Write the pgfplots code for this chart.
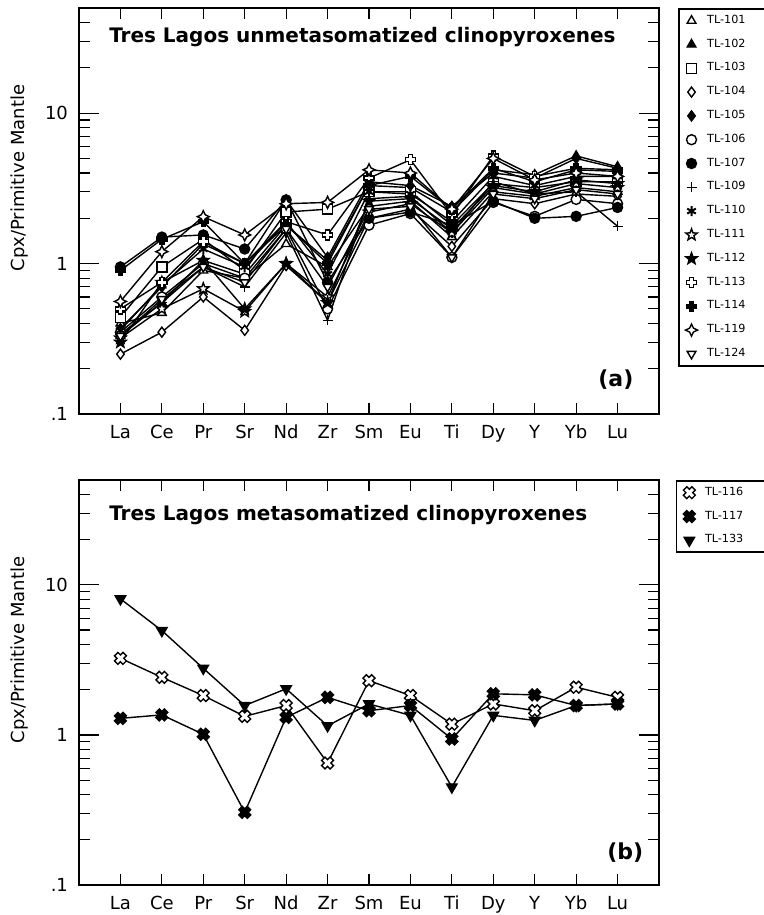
\documentclass[border=0pt]{standalone}
\usepackage{fontspec}
\setmainfont{DejaVu Sans}
\usepackage{pgfplots}
\pgfplotsset{compat=1.18}
\usepackage{pgfplotstable}
\usetikzlibrary{plotmarks}

\pgfdeclareplotmark{fatplus}{%
  \pgfpathmoveto{\pgfqpoint{-0.4\pgfplotmarksize}{\pgfplotmarksize}}%
  \pgfpathlineto{\pgfqpoint{0.4\pgfplotmarksize}{\pgfplotmarksize}}%
  \pgfpathlineto{\pgfqpoint{0.4\pgfplotmarksize}{0.4\pgfplotmarksize}}%
  \pgfpathlineto{\pgfqpoint{\pgfplotmarksize}{0.4\pgfplotmarksize}}%
  \pgfpathlineto{\pgfqpoint{\pgfplotmarksize}{-0.4\pgfplotmarksize}}%
  \pgfpathlineto{\pgfqpoint{0.4\pgfplotmarksize}{-0.4\pgfplotmarksize}}%
  \pgfpathlineto{\pgfqpoint{0.4\pgfplotmarksize}{-\pgfplotmarksize}}%
  \pgfpathlineto{\pgfqpoint{-0.4\pgfplotmarksize}{-\pgfplotmarksize}}%
  \pgfpathlineto{\pgfqpoint{-0.4\pgfplotmarksize}{-0.4\pgfplotmarksize}}%
  \pgfpathlineto{\pgfqpoint{-\pgfplotmarksize}{-0.4\pgfplotmarksize}}%
  \pgfpathlineto{\pgfqpoint{-\pgfplotmarksize}{0.4\pgfplotmarksize}}%
  \pgfpathlineto{\pgfqpoint{-0.4\pgfplotmarksize}{0.4\pgfplotmarksize}}%
  \pgfpathclose\pgfusepathqfillstroke}
\pgfdeclareplotmark{fourstar}{%
  \pgfpathmoveto{\pgfpointpolar{90}{1.2\pgfplotmarksize}}%
  \pgfpathlineto{\pgfpointpolar{135}{0.55\pgfplotmarksize}}%
  \pgfpathlineto{\pgfpointpolar{180}{1.2\pgfplotmarksize}}%
  \pgfpathlineto{\pgfpointpolar{225}{0.55\pgfplotmarksize}}%
  \pgfpathlineto{\pgfpointpolar{270}{1.2\pgfplotmarksize}}%
  \pgfpathlineto{\pgfpointpolar{315}{0.55\pgfplotmarksize}}%
  \pgfpathlineto{\pgfpointpolar{0}{1.2\pgfplotmarksize}}%
  \pgfpathlineto{\pgfpointpolar{45}{0.55\pgfplotmarksize}}%
  \pgfpathclose\pgfusepathqfillstroke}
\pgfdeclareplotmark{fivestar}{%
  \pgfpathmoveto{\pgfpointpolar{90}{1.2\pgfplotmarksize}}%
  \pgfpathlineto{\pgfpointpolar{126}{0.5\pgfplotmarksize}}%
  \pgfpathlineto{\pgfpointpolar{162}{1.2\pgfplotmarksize}}%
  \pgfpathlineto{\pgfpointpolar{198}{0.5\pgfplotmarksize}}%
  \pgfpathlineto{\pgfpointpolar{234}{1.2\pgfplotmarksize}}%
  \pgfpathlineto{\pgfpointpolar{270}{0.5\pgfplotmarksize}}%
  \pgfpathlineto{\pgfpointpolar{306}{1.2\pgfplotmarksize}}%
  \pgfpathlineto{\pgfpointpolar{342}{0.5\pgfplotmarksize}}%
  \pgfpathlineto{\pgfpointpolar{18}{1.2\pgfplotmarksize}}%
  \pgfpathlineto{\pgfpointpolar{54}{0.5\pgfplotmarksize}}%
  \pgfpathclose\pgfusepathqfillstroke}

\pgfplotstableread{
x T101 T102 T103 T104 T105 T106 T107 T109 T110 T111 T112 T113 T114 T119 T124
0 0.40 0.33 0.44 0.25 0.37 0.35 0.95 0.34 0.36 0.32 0.30 0.50 0.90 0.56 0.33
1 0.47 0.55 0.95 0.35 0.70 0.60 1.50 0.55 0.72 0.50 0.75 0.75 1.45 1.20 0.58
2 0.90 1.05 1.45 0.60 1.35 1.00 1.55 0.95 1.25 0.68 1.05 1.40 1.90 2.05 0.95
3 0.80 0.85 0.90 0.36 1.00 0.80 1.25 0.70 0.95 0.48 0.50 1.00 1.00 1.55 0.75
4 1.35 1.80 2.20 0.97 2.65 1.70 2.65 1.60 1.90 1.00 1.00 1.90 1.80 2.50 1.70
5 0.95 1.05 2.30 0.55 1.10 0.50 0.75 0.42 0.85 0.60 0.55 1.55 1.00 2.55 0.70
6 2.40 3.30 3.00 2.00 3.50 1.80 2.00 2.70 3.00 2.20 2.60 3.70 3.30 4.20 2.30
7 2.60 3.20 3.00 2.30 3.30 2.15 2.20 2.80 2.90 2.50 2.70 4.90 3.80 4.00 2.40
8 1.50 2.20 1.80 1.30 2.40 1.10 1.80 1.60 1.90 1.60 1.70 2.10 2.30 2.30 1.10
9 3.00 4.20 3.40 2.70 4.00 2.55 2.60 3.50 3.80 3.20 3.30 5.20 4.30 5.00 2.90
10 2.80 3.90 3.20 2.50 3.70 2.06 2.00 2.90 3.30 2.90 3.00 3.80 3.50 3.60 2.70
11 3.20 5.20 3.50 2.90 5.00 2.67 2.06 3.00 3.80 3.40 3.60 4.30 4.20 4.00 3.10
12 3.00 4.40 3.50 2.80 4.30 2.50 2.36 1.77 3.80 3.20 3.40 4.20 4.10 3.80 2.90
}\topdata

\pgfplotstableread{
x T116 T117 T133
0 3.24 1.29 8.07
1 2.42 1.36 4.96
2 1.83 1.01 2.78
3 1.33 0.305 1.57
4 1.57 1.31 2.03
5 0.65 1.78 1.15
6 2.30 1.45 1.61
7 1.83 1.57 1.35
8 1.18 0.94 0.45
9 1.61 1.88 1.35
10 1.45 1.85 1.25
11 2.08 1.57 1.57
12 1.78 1.61 1.61
}\botdata

\pgfplotsset{
  legend image code/.code={\path (-6pt,0pt) (6pt,0pt); \draw[#1] plot coordinates {(0pt,0pt)};},
}
\newcommand{\lab}[1]{\makebox[45pt][l]{#1}}

\begin{document}
\begin{tikzpicture}
\useasboundingbox (0,0) rectangle (382pt,457.5pt);
\begin{axis}[at={(39.5pt,250.5pt)}, anchor=south west,
    scale only axis, width=290pt, height=203pt,
    ymode=log, ymin=0.1, ymax=50, xmin=-1, xmax=13,
    xtick={0,...,12},
    xticklabels={La,Ce,Pr,Sr,Nd,Zr,Sm,Eu,Ti,Dy,Y,Yb,Lu},
    minor xtick={0,...,12},
    major x tick style={draw=none},
    ytick={0.1,1,10}, yticklabels={.1,1,10},
    minor ytick={0.2,0.3,0.4,0.5,0.6,0.7,0.8,0.9,2,3,4,5,6,7,8,9,20,30,40},
    tick align=inside,
    major tick length=10pt, minor tick length=5.5pt,
    tick style={black, line width=0.6pt},
    axis line style={line width=1pt},
    ticklabel style={font=\fontsize{9}{11}\selectfont},
    yticklabel style={xshift=-2pt},
    xticklabel style={yshift=-2pt},
    legend cell align=left,
    legend style={draw=black, line width=0.8pt, inner sep=0pt, row sep=0pt,
      column sep=1.5pt, font=\fontsize{5.6}{6.5}\selectfont,
      nodes={minimum height=11.9pt, inner sep=0pt},
      at={(axis description cs:1.0328,1)}, anchor=north west},
    every axis plot/.append style={black, line width=0.7pt, mark size=2.5pt},
  ]
\addplot[mark=triangle*, mark options={fill=white}] table[x=x,y=T101]{\topdata};
\addlegendentry{\lab{TL-101}}
\addplot[mark=triangle*, mark options={fill=black}] table[x=x,y=T102]{\topdata};
\addlegendentry{\lab{TL-102}}
\addplot[mark=square*, mark options={fill=white}] table[x=x,y=T103]{\topdata};
\addlegendentry{\lab{TL-103}}
\addplot[mark=diamond*, mark options={fill=white}] table[x=x,y=T104]{\topdata};
\addlegendentry{\lab{TL-104}}
\addplot[mark=diamond*, mark options={fill=black}] table[x=x,y=T105]{\topdata};
\addlegendentry{\lab{TL-105}}
\addplot[mark=*, mark options={fill=white}] table[x=x,y=T106]{\topdata};
\addlegendentry{\lab{TL-106}}
\addplot[mark=*, mark options={fill=black}] table[x=x,y=T107]{\topdata};
\addlegendentry{\lab{TL-107}}
\addplot[mark=+, mark options={line width=0.7pt}] table[x=x,y=T109]{\topdata};
\addlegendentry{\lab{TL-109}}
\addplot[mark=asterisk, mark options={line width=1pt}] table[x=x,y=T110]{\topdata};
\addlegendentry{\lab{TL-110}}
\addplot[mark=fivestar, mark options={fill=white}] table[x=x,y=T111]{\topdata};
\addlegendentry{\lab{TL-111}}
\addplot[mark=fivestar, mark options={fill=black}] table[x=x,y=T112]{\topdata};
\addlegendentry{\lab{TL-112}}
\addplot[mark=fatplus, mark options={fill=white}] table[x=x,y=T113]{\topdata};
\addlegendentry{\lab{TL-113}}
\addplot[mark=fatplus, mark options={fill=black}] table[x=x,y=T114]{\topdata};
\addlegendentry{\lab{TL-114}}
\addplot[mark=fourstar, mark options={fill=white}] table[x=x,y=T119]{\topdata};
\addlegendentry{\lab{TL-119}}
\addplot[mark=triangle*, mark options={fill=white, rotate=180}] table[x=x,y=T124]{\topdata};
\addlegendentry{\lab{TL-124}}
\node[anchor=west, font=\bfseries\fontsize{10}{12}\selectfont] at (axis description cs:0.040,0.929) {Tres Lagos unmetasomatized clinopyroxenes};
\node[anchor=east, font=\bfseries\fontsize{11}{13}\selectfont] at (axis description cs:0.968,0.084) {(a)};
\end{axis}
\node[rotate=90, font=\fontsize{9}{11}\selectfont] at (10pt,368.5pt) {Cpx/Primitive Mantle};

\begin{axis}[at={(39.5pt,15pt)}, anchor=south west,
    scale only axis, width=290pt, height=202.5pt,
    ymode=log, ymin=0.1, ymax=50, xmin=-1, xmax=13,
    xtick={0,...,12},
    xticklabels={La,Ce,Pr,Sr,Nd,Zr,Sm,Eu,Ti,Dy,Y,Yb,Lu},
    minor xtick={0,...,12},
    major x tick style={draw=none},
    ytick={0.1,1,10}, yticklabels={.1,1,10},
    minor ytick={0.2,0.3,0.4,0.5,0.6,0.7,0.8,0.9,2,3,4,5,6,7,8,9,20,30,40},
    tick align=inside,
    major tick length=10pt, minor tick length=5.5pt,
    tick style={black, line width=0.6pt},
    axis line style={line width=1pt},
    ticklabel style={font=\fontsize{9}{11}\selectfont},
    yticklabel style={xshift=-2pt},
    xticklabel style={yshift=-2pt},
    legend cell align=left,
    legend style={draw=black, line width=0.8pt, inner sep=0pt, row sep=0pt,
      column sep=1.5pt, font=\fontsize{5.6}{6.5}\selectfont,
      nodes={minimum height=11.9pt, inner sep=0pt},
      at={(axis description cs:1.029,1)}, anchor=north west},
    every axis plot/.append style={black, line width=0.7pt, mark size=3pt},
  ]
\addplot[mark=fatplus, mark options={fill=white, rotate=45}] table[x=x,y=T116]{\botdata};
\addlegendentry{\lab{TL-116}}
\addplot[mark=fatplus, mark options={fill=black, rotate=45}] table[x=x,y=T117]{\botdata};
\addlegendentry{\lab{TL-117}}
\addplot[mark=triangle*, mark options={fill=black, rotate=180}] table[x=x,y=T133]{\botdata};
\addlegendentry{\lab{TL-133}}
\node[anchor=west, font=\bfseries\fontsize{10}{12}\selectfont] at (axis description cs:0.040,0.914) {Tres Lagos metasomatized clinopyroxenes};
\node[anchor=east, font=\bfseries\fontsize{11}{13}\selectfont] at (axis description cs:0.985,0.079) {(b)};
\end{axis}
\node[rotate=90, font=\fontsize{9}{11}\selectfont] at (10pt,132.5pt) {Cpx/Primitive Mantle};
\end{tikzpicture}
\end{document}
